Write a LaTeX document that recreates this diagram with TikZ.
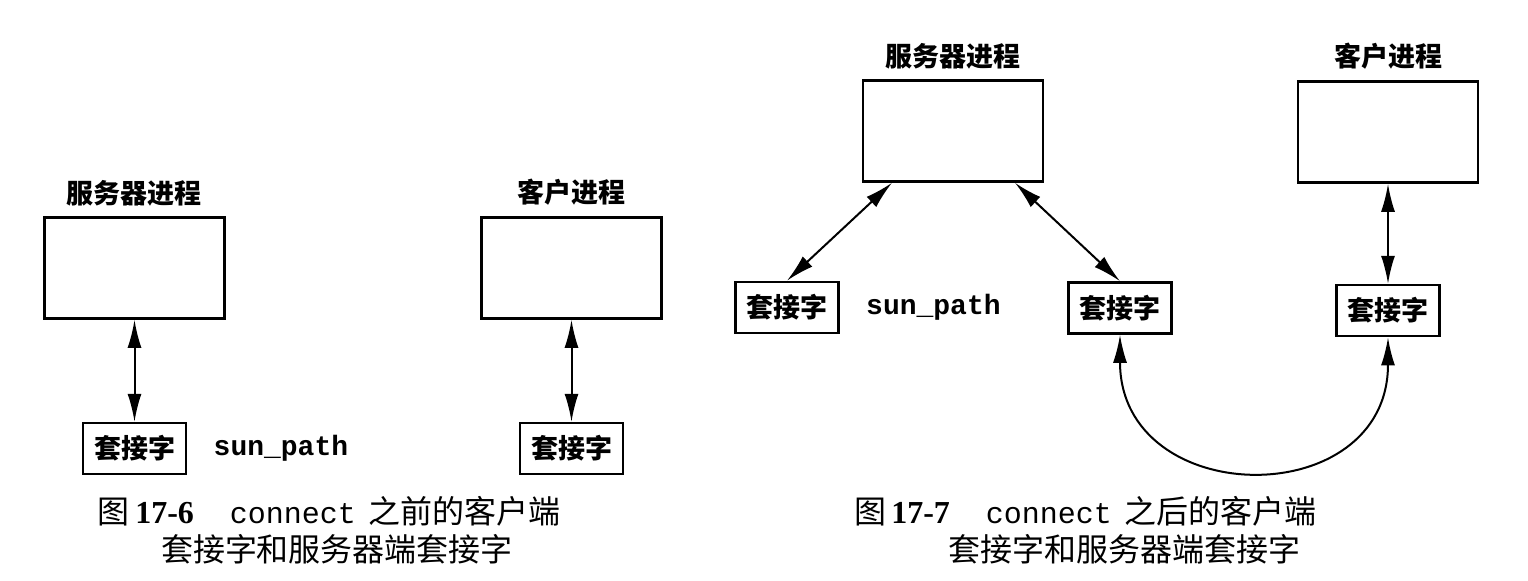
\documentclass[tikz,border=0pt]{standalone}
\usepackage{fontspec}
\setmainfont{Liberation Serif}
\setmonofont{Liberation Mono}
\newfontfamily\cjk{Noto Sans CJK SC}
\usetikzlibrary{positioning,arrows.meta}

\begin{document}
\begin{tikzpicture}[x=0.5pt,y=-0.5pt,
  proc/.style={draw,line width=1.3pt,minimum width=90pt,minimum height=50.5pt},
  sock/.style={draw,line width=1.3pt,minimum width=51.5pt,minimum height=25.5pt,inner sep=0pt,font={\cjk\bfseries\fontsize{13.5pt}{16pt}\selectfont}},
  proclabel/.style={inner sep=0pt,font={\cjk\bfseries\fontsize{13.5pt}{16pt}\selectfont}},
  pathtxt/.style={inner sep=0pt,font={\ttfamily\bfseries\fontsize{14pt}{16pt}\selectfont}},
  captxt/.style={inner sep=0pt,font={\cjk\fontsize{16pt}{19pt}\selectfont}},
  conn/.style={line width=1pt,{Latex[length=14pt,width=7pt]}-{Latex[length=14pt,width=7pt]}}]
\useasboundingbox (0,0) rectangle (1528,581);
% 17-6: before connect
\node[proc] (srvA) at (134.5,268) {};
\node[proclabel,above=5pt of srvA] (srvAlbl) {服务器进程};
\node[proc] (cliA) at (571.5,268) {};
\node[proclabel,above=5pt of cliA] (cliAlbl) {客户进程};
\node[sock,below=51pt of srvA] (sockA1) {套接字};
\node[sock,below=51pt of cliA] (sockA2) {套接字};
\node[pathtxt,right=13pt of sockA1] (pathA) {sun\_path};
\draw[conn] (srvA.south) -- (sockA1.north);
\draw[conn] (cliA.south) -- (sockA2.north);
\node[captxt] (capA1) at (329,511) {图\,{\rmfamily\bfseries 17-6}\hspace{18pt}{\ttfamily\fontsize{15pt}{19pt}\selectfont connect}\hspace{6pt}之前的客户端};
\node[captxt] (capA2) at (337,549) {套接字和服务器端套接字};
% 17-7: after connect
\node[proc] (srvB) at (953,131) {};
\node[proclabel,above=5pt of srvB] (srvBlbl) {服务器进程};
\node[proc] (cliB) at (1388,132) {};
\node[proclabel,above=5pt of cliB] (cliBlbl) {客户进程};
\node[sock] (sockB1) at (787,307.5) {套接字};
\node[sock] (sockB2) at (1120,308) {套接字};
\node[sock,below=50pt of cliB] (sockB3) {套接字};
\node[pathtxt,right=13pt of sockB1] (pathB) {sun\_path};
\draw[conn] ([xshift=-30.5pt]srvB.south) -- (sockB1.north);
\draw[conn] ([xshift=31pt]srvB.south) -- (sockB2.north);
\draw[conn] (cliB.south) -- (sockB3.north);
\draw[conn] (sockB2.south) .. controls +(0,176) and +(0,176) .. (sockB3.south);
\node[captxt] (capB1) at (1085,511) {图\,{\rmfamily\bfseries 17-7}\hspace{18pt}{\ttfamily\fontsize{15pt}{19pt}\selectfont connect}\hspace{6pt}之后的客户端};
\node[captxt] (capB2) at (1124.5,549) {套接字和服务器端套接字};
\end{tikzpicture}
\end{document}
